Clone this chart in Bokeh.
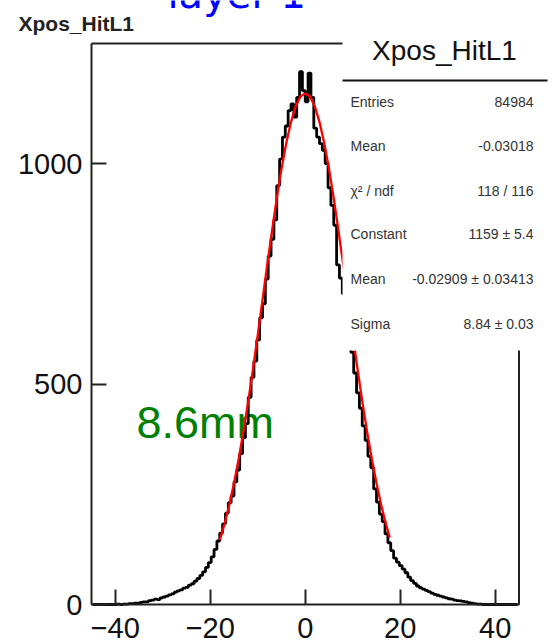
import numpy as np
from bokeh.plotting import figure
from bokeh.models import Range1d, FixedTicker, LinearAxis
from bokeh.core.properties import value
from bokeh.embed import file_html
from bokeh.resources import INLINE

# ---------------- data ----------------
hist_name = "Xpos_HitL1"
x_lo, x_hi = -45.0, 45.0
n_bins = 150
counts = [
    0, 0, 0, 0, 0, 0, 0, 0, 0, 1,
    0, 1, 1, 2, 2, 3, 3, 5, 6, 6,
    9, 10, 12, 11, 15, 17, 19, 22, 24, 28,
    31, 33, 37, 39, 44, 47, 53, 59, 66, 74,
    84, 95, 108, 125, 144, 162, 183, 207, 231, 246,
    278, 305, 342, 378, 410, 470, 515, 552, 600, 650,
    682, 738, 790, 828, 872, 950, 1010, 1060, 1085, 1120,
    1135, 1105, 1150, 1208, 1165, 1140, 1205, 1150, 1080, 1060,
    1045, 1030, 1000, 945, 905, 860, 770, 740, 705, 660,
    615, 572, 525, 480, 445, 405, 372, 336, 310, 262,
    232, 205, 188, 160, 140, 122, 105, 96, 88, 80,
    72, 62, 54, 48, 42, 38, 35, 32, 29, 26,
    23, 21, 19, 17, 15, 13, 12, 10, 9, 8,
    7, 6, 4, 3, 2, 1, 1, 0, 0, 0,
    0, 0, 0, 0, 0, 0, 0, 0, 0, 0,
]
fit_x = [-18, -17, -16, -15, -14, -13, -12, -11, -10, -9, -8, -7, -6, -5, -4, -3, -2, -1, 0,
         1, 2, 3, 4, 5, 6, 7, 8, 9, 10, 11, 12, 13, 14, 15, 16, 17, 17.8]
fit_y = [146, 182, 225, 275, 331, 393, 461, 534, 611, 690, 770, 847, 921, 988, 1046, 1094, 1130, 1152, 1159,
         1152, 1130, 1094, 1046, 988, 921, 847, 770, 690, 611, 534, 461, 393, 331, 275, 225, 182, 152]
x_ticks = [-40, -20, 0, 20, 40]
y_ticks = [0, 500, 1000]
y_max = 1272
stats_labels = ["Entries", "Mean", "χ² / ndf", "Constant", "Mean", "Sigma"]
stats_values = ["84984", "-0.03018", "118 / 116", "1159 ± 5.4", "-0.02909 ± 0.03413", "8.84 ± 0.03"]

# ---------------- geometry (pixel calibration of the reference) ----------------
W, H = 552, 644
px_per_x = 4.75
px_per_y = 0.441
axis_px = 91       # pixel column of the left axis (x = -45)
base_py = 604      # pixel row of the bottom axis (y = 0)

def xd(px):
    return x_lo + (px - axis_px) / px_per_x

def yd(py):
    return (base_py - py) / px_per_y

p = figure(width=W, height=H, output_backend="svg", toolbar_location=None,
           x_range=Range1d(xd(0), xd(W)), y_range=Range1d(yd(H), yd(0)),
           min_border=0, min_border_left=0, min_border_right=0, min_border_top=0,
           min_border_bottom=0, x_axis_type=None, y_axis_type=None)
p.outline_line_color = None
p.grid.visible = False
p.background_fill_color = "white"
p.border_fill_color = "white"

font = "Liberation Sans"

xa = LinearAxis(ticker=FixedTicker(ticks=x_ticks, minor_ticks=[]), bounds=(x_lo, x_hi), fixed_location=0)
ya = LinearAxis(ticker=FixedTicker(ticks=y_ticks, minor_ticks=[]), bounds=(0, y_max), fixed_location=x_lo)
for ax in (xa, ya):
    ax.axis_line_width = 2
    ax.axis_line_color = "#222222"
    ax.major_tick_in = 15
    ax.major_tick_out = 0
    ax.major_tick_line_width = 2
    ax.major_tick_line_color = "#222222"
    ax.minor_tick_line_color = None
    ax.major_label_text_font = font
    ax.major_label_text_font_size = "29px"
    ax.major_label_text_color = "#111111"
xa.major_label_standoff = 13
ya.major_label_standoff = 9
p.add_layout(xa, "below")
p.add_layout(ya, "left")

# frame top and right edges
p.line(x=[x_lo, x_hi], y=[y_max, y_max], line_color="#222222", line_width=2)
p.line(x=[x_hi, x_hi], y=[0, y_max], line_color="#222222", line_width=2)

# annotation text under the histogram
p.text(x=[xd(136)], y=[yd(422)], text=["8.6mm"], text_font=value(font), text_font_size="45px",
       text_color="#008000", text_baseline="alphabetic", text_align="left")

# histogram
width = (x_hi - x_lo) / n_bins
centers = x_lo + width * (np.arange(n_bins) + 0.5)
p.step(x=centers, y=counts, mode="center", line_color="black", line_width=2.8)

# fit
p.line(x=fit_x, y=fit_y, line_color="#ff0000", line_width=2.3)

# stats box
box_left_px = 342
p.quad(left=[xd(box_left_px)], right=[xd(W + 5)], bottom=[yd(350)], top=[yd(-5)],
       fill_color="white", line_color=None)
p.line(x=[xd(box_left_px), xd(547)], y=[yd(80), yd(80)], line_color="#111111", line_width=2)
p.text(x=[xd(444)], y=[yd(50)], text=[hist_name], text_font=value(font), text_font_size="28px",
       text_color="#111111", text_baseline="middle", text_align="center")
row_y = [101, 145, 190, 233, 278, 323]
p.text(x=[xd(350)] * 6, y=[yd(v) for v in row_y], text=stats_labels, text_font=value(font),
       text_font_size="14px", text_color="#333333", text_baseline="middle", text_align="left")
p.text(x=[xd(533)] * 6, y=[yd(v) for v in row_y], text=stats_values, text_font=value(font),
       text_font_size="14px", text_color="#333333", text_baseline="middle", text_align="right")

# big blue layer text at the top (cut by the window edge, as in the reference)
p.text(x=[xd(167)], y=[yd(-7)], text=["layer 1"], text_font=value("DejaVu Sans"),
       text_font_size="40px", text_color="#0000ff", text_baseline="alphabetic", text_align="left")

# histogram title at top left
p.text(x=[xd(18)], y=[yd(23)], text=[hist_name], text_font=value(font), text_font_size="21px",
       text_font_style="bold", text_color="#222222", text_baseline="middle", text_align="left")

open("out.html", "w").write(file_html(p, INLINE))
